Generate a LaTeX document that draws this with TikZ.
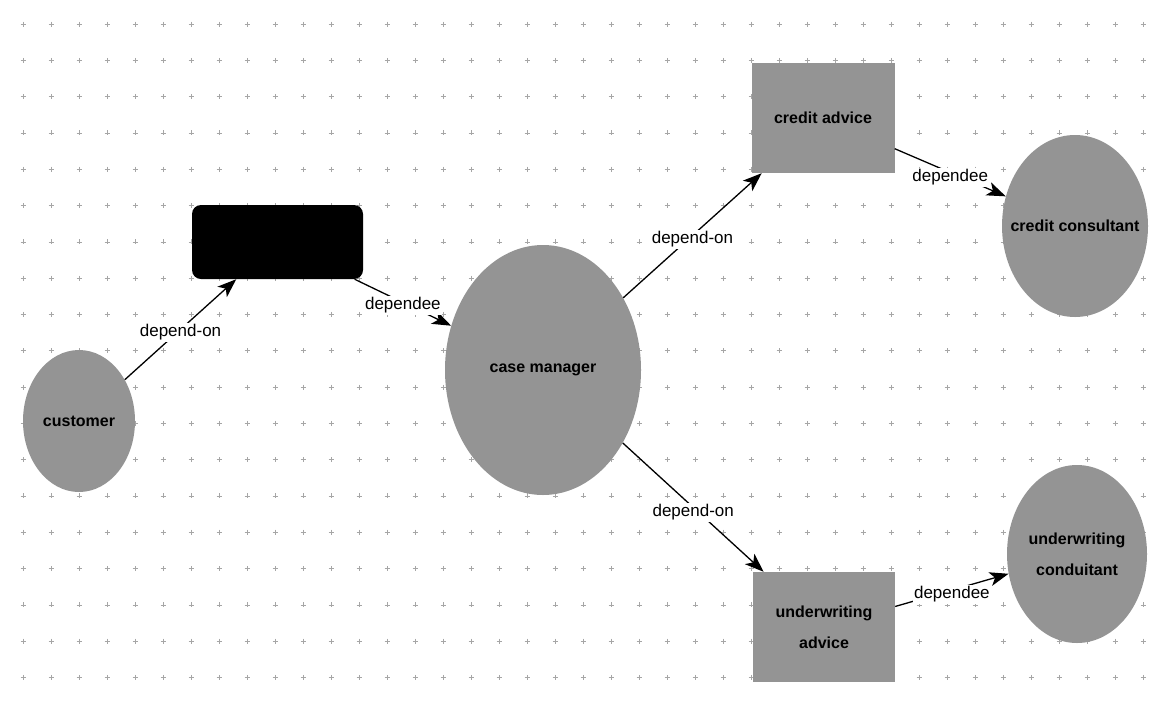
\documentclass[tikz,border=0pt]{standalone}
\usepackage{fontspec}
\setmainfont{Liberation Sans}
\usetikzlibrary{shapes.geometric,arrows.meta}
\begin{document}
\begin{tikzpicture}[x=1pt,y=-1pt,
  actor/.style={ellipse, fill=black!42, inner sep=0pt, align=center,
                font=\fontsize{16}{31}\selectfont\bfseries},
  nodetext/.style={inner sep=0pt, align=center, font=\fontsize{16}{31}\selectfont\bfseries},
  advice/.style={rectangle, fill=black!42, inner sep=0pt, align=center,
                 font=\fontsize{16}{31}\selectfont\bfseries},
  sysbox/.style={rectangle, rounded corners=9pt, fill=black, inner sep=0pt},
  conn/.style={draw=black, line width=1.3pt, -{Stealth[length=19pt,width=14pt,inset=5pt]}},
  lbl/.style={fill=white, inner sep=1.5pt, font=\fontsize{17}{20}\selectfont},
  gridmark/.style={draw=black!35, line width=0.5pt}]
\useasboundingbox (0,0) rectangle (1153,710);
\fill[white] (0,0) rectangle (1153,710);
% background grid
\foreach \i in {0,...,40}{
  \foreach \j in {0,...,18}{
    \draw[gridmark] ({23+28*\i-2.5},{24+36.3*\j}) -- ++(5,0)
                    ({23+28*\i},{24+36.3*\j-2.5}) -- ++(0,5);
  }
}
% nodes
\node[actor, minimum width=112pt, minimum height=142pt] (cust) at (79,421) {customer};
\node[sysbox, minimum width=171pt, minimum height=74pt] (sys) at (277.5,242) {};
\node[actor, minimum width=196pt, minimum height=250pt] (case) at (543,370) {case manager};
\node[advice, minimum width=143pt, minimum height=110pt] (cadv) at (823,118) {credit advice};
\node[actor, minimum width=146pt, minimum height=182pt] (ccons) at (1075,226) {};
\node[nodetext] (ccons-t) at (ccons.center) {credit consultant};
\node[advice, minimum width=142pt, minimum height=110pt] (uadv) at (824,627) {underwriting\\advice};
\node[actor, minimum width=140pt, minimum height=178pt] (ucons) at (1077,554) {underwriting\\conduitant};
% connectors
\draw[conn] (cust) -- node[lbl, yshift=-3pt] (l1) {depend-on} (sys);
\draw[conn] (sys) -- node[lbl, yshift=-3pt] (l2) {dependee} (case);
\draw[conn] (case) -- node[lbl, yshift=-4pt] (l3) {depend-on} (cadv);
\draw[conn] (cadv) -- node[lbl, yshift=-5pt] (l4) {dependee} (ccons);
\draw[conn] (case) -- node[lbl, yshift=-5pt] (l5) {depend-on} (uadv);
\draw[conn] (uadv) -- node[lbl, yshift=-4pt] (l6) {dependee} (ucons);
\end{tikzpicture}
\end{document}
